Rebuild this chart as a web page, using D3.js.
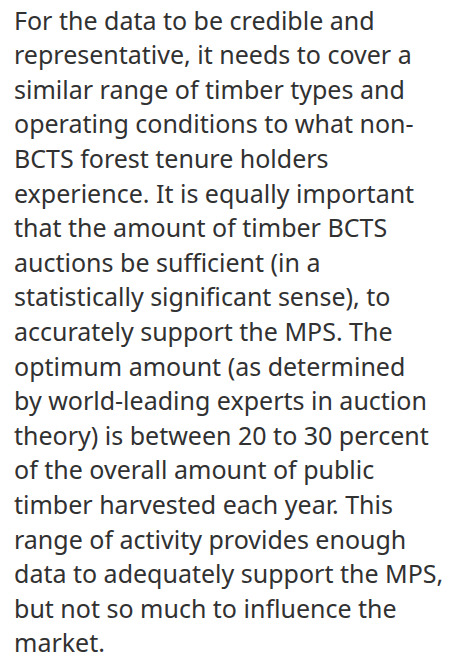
<!DOCTYPE html>
<html>
<head>
<meta charset="utf-8">
<script src="https://cdn.jsdelivr.net/npm/d3@7"></script>
<style>
  body { margin: 0; background: #fff; }
</style>
</head>
<body>
<div id="zone"></div>
<script>
// Les lignes du paragraphe, telles que coupees dans l'image
const lignes = [
  "For the data to be credible and",
  "representative, it needs to cover a",
  "similar range of timber types and",
  "operating conditions to what non-",
  "BCTS forest tenure holders",
  "experience. It is equally important",
  "that the amount of timber BCTS",
  "auctions be sufficient (in a",
  "statistically significant sense), to",
  "accurately support the MPS. The",
  "optimum amount (as determined",
  "by world-leading experts in auction",
  "theory) is between 20 to 30 percent",
  "of the overall amount of public",
  "timber harvested each year. This",
  "range of activity provides enough",
  "data to adequately support the MPS,",
  "but not so much to influence the",
  "market."
];
const indices = lignes.map((d, i) => i);

const width = 455, height = 655;
const margin = {left: 14, top: 29.5};
const interligne = 34.6;

const svg = d3.select("#zone")
    .append("svg")
    .attr("width", width)
    .attr("height", height);

// Position verticale de chaque ligne (ligne de base)
const y = d3.scaleLinear()
    .domain([0, lignes.length - 1])
    .range([margin.top, margin.top + interligne * (lignes.length - 1)]);

svg.selectAll("text")
    .data(indices)
    .join("text")
    .attr("x", margin.left)
    .attr("y", d => y(d))
    .style("font-family", "'Noto Sans', sans-serif")
    .style("font-size", "25px")
    .style("fill", "#313132")
    .text(d => lignes[d]);
</script>
</body>
</html>
